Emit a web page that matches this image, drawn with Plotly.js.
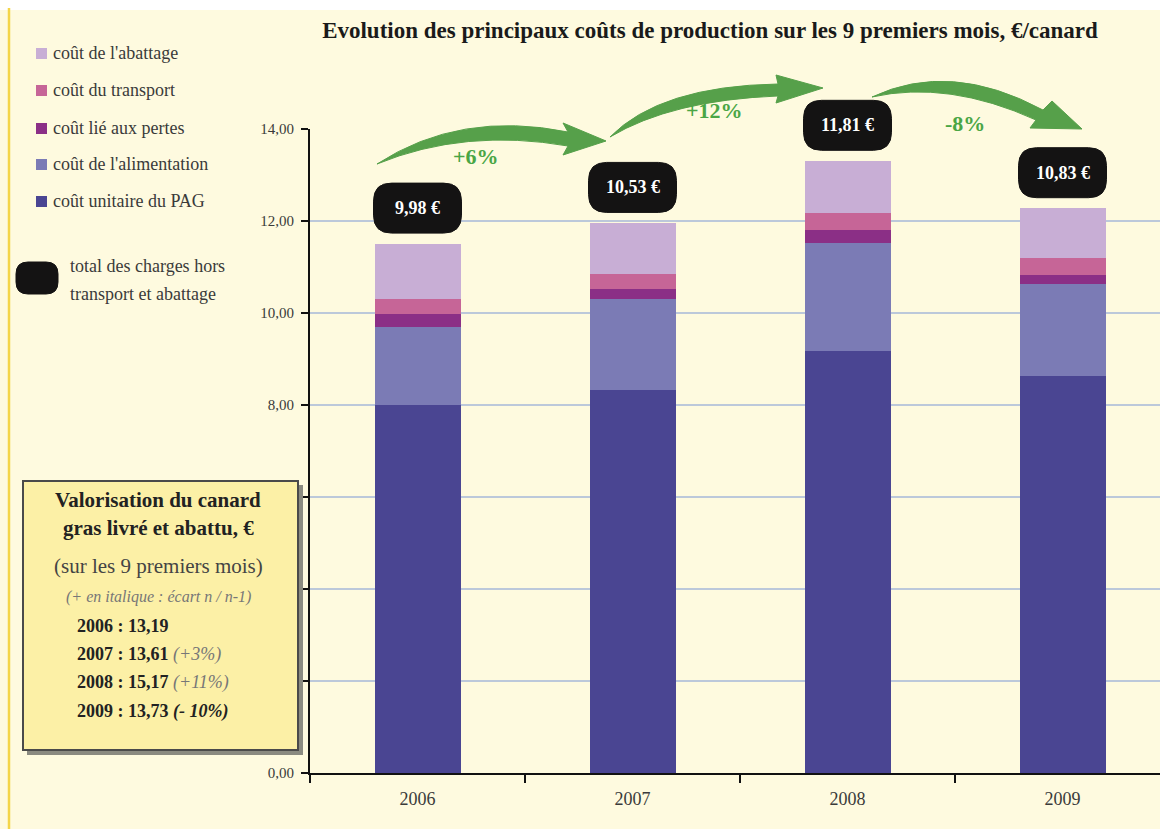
<!DOCTYPE html>
<html><head><meta charset="utf-8">
<script src="https://cdn.plot.ly/plotly-3.0.1.min.js"></script>
<style>html,body{margin:0;padding:0;background:#fefadf;} #chart{width:1160px;height:829px;}</style>
</head><body><div id="chart"></div>
<script>
// ---------- data ----------
const years = ['2006', '2007', '2008', '2009'];
const coutPAG = [8.00, 8.32, 9.17, 8.62];
const coutAlimentation = [1.70, 1.99, 2.36, 2.00];
const coutPertes = [0.28, 0.22, 0.28, 0.21];
const coutTransport = [0.33, 0.31, 0.36, 0.37];
const coutAbattage = [1.20, 1.12, 1.14, 1.08];
const totalLabels = ['9,98 €', '10,53 €', '11,81 €', '10,83 €'];
const evolutionLabels = ['+6%', '+12%', '-8%'];
const seriesNames = ["coût unitaire du PAG", "coût de l'alimentation", "coût lié aux pertes", "coût du transport", "coût de l'abattage"];
const seriesColors = ['#4a4592', '#7b7bb5', '#8b2f86', '#c66597', '#c8aed5'];
const yTickVals = [0, 2, 4, 6, 8, 10, 12, 14];
const yTickText = ['0,00', '', '', '', '8,00', '10,00', '12,00', '14,00'];
const valYears = ['2006', '2007', '2008', '2009'];
const valValues = ['13,19', '13,61', '15,17', '13,73'];
const valEcart = ['', '(+3%)', '(+11%)', '(- 10%)'];

// ---------- geometry ----------
const W = 1160, H = 829, L = 310, R = 0, T = 129, B = 56;
const PW = W - L - R, PH = H - T - B;
const Y_MAX = 14;
const fx = px => (px - L) / PW;
const fy = py => (H - B - py) / PH;
const pt = p => fx(p[0]).toFixed(5) + ',' + fy(p[1]).toFixed(5);
const FONT = 'Liberation Serif, Times New Roman, serif';

const seriesData = [coutPAG, coutAlimentation, coutPertes, coutTransport, coutAbattage];
const traces = seriesData.map((vals, i) => ({
  type: 'bar', x: years, y: vals, name: seriesNames[i],
  marker: {color: seriesColors[i], line: {width: 0}},
  width: 0.4, showlegend: false, hoverinfo: 'skip'
}));

const totals = years.map((_, i) => seriesData.reduce((s, a) => s + a[i], 0));
const LABEL_OFFSET = 0.77;

function roundRect(w, h, r) {
  const a = w / 2, b = h / 2;
  return `M ${-a + r},${-b} L ${a - r},${-b} Q ${a},${-b} ${a},${-b + r} L ${a},${b - r} Q ${a},${b} ${a - r},${b} ` +
         `L ${-a + r},${b} Q ${-a},${b} ${-a},${b - r} L ${-a},${-b + r} Q ${-a},${-b} ${-a + r},${-b} Z`;
}

const shapes = [];
const annotations = [];

// white strip at top & yellow left rule
shapes.push({type: 'rect', xref: 'paper', yref: 'paper', x0: fx(0), x1: fx(1160), y0: fy(10), y1: fy(-2), fillcolor: '#ffffff', line: {width: 0}, layer: 'below'});
shapes.push({type: 'line', xref: 'paper', yref: 'paper', x0: fx(9), x1: fx(9), y0: fy(8), y1: fy(829), line: {color: '#f4d548', width: 2.5}});

// total labels (black rounded boxes) - y in paper units (range starts at 0, full domain)
years.forEach((yr, i) => {
  const yp = (totals[i] + LABEL_OFFSET) / Y_MAX;
  shapes.push({type: 'path', xref: 'x', yref: 'paper', xsizemode: 'pixel', ysizemode: 'pixel',
    xanchor: i, yanchor: yp, path: roundRect(88, 50, 18),
    fillcolor: '#141313', line: {color: '#141313', width: 1}});
  annotations.push({x: i, y: yp, xref: 'x', yref: 'paper', xanchor: 'center', yanchor: 'middle',
    text: '<b>' + totalLabels[i] + '</b>',
    showarrow: false, font: {family: FONT, size: 18, color: '#ffffff'}});
});

// green swoosh arrows
const GREEN = '#56a04a';
const arrows = [
  `M ${pt([377,164])} Q ${pt([460,110])} ${pt([568,132])} L ${pt([563,123])} L ${pt([606,141])} L ${pt([563,155])} L ${pt([568,146])} Q ${pt([465,128])} ${pt([377,164])} Z`,
  `M ${pt([610,137])} Q ${pt([660,86])} ${pt([778,84])} L ${pt([776,75])} L ${pt([823,88])} L ${pt([776,103])} L ${pt([778,96])} Q ${pt([672,100])} ${pt([610,137])} Z`,
  `M ${pt([872,97])} Q ${pt([950,60])} ${pt([1043,110])} L ${pt([1052,101])} L ${pt([1082,129])} L ${pt([1030,128])} L ${pt([1036,120])} Q ${pt([948,80])} ${pt([872,97])} Z`
];
arrows.forEach(p => shapes.push({type: 'path', xref: 'paper', yref: 'paper', path: p, fillcolor: GREEN, line: {color: GREEN, width: 1}}));
const evoPos = [[476,157],[714,110],[965,124]];
evolutionLabels.forEach((t, i) => annotations.push({xref: 'paper', yref: 'paper', x: fx(evoPos[i][0]), y: fy(evoPos[i][1]),
  xanchor: 'center', yanchor: 'middle',
  text: '<b>' + t + '</b>', showarrow: false, font: {family: FONT, size: 22, color: '#4aa645'}}));

// manual legend
const LEG_FONT = 18;
const legendOrder = [4, 3, 2, 1, 0];
const legendY = [53, 90, 128, 164, 201];
legendOrder.forEach((si, k) => {
  const yc = legendY[k];
  shapes.push({type: 'rect', xref: 'paper', yref: 'paper', x0: fx(36), x1: fx(47), y0: fy(yc + 6), y1: fy(yc - 5),
    fillcolor: seriesColors[si], line: {width: 0}});
  annotations.push({xref: 'paper', yref: 'paper', x: fx(51), y: fy(yc), xanchor: 'left', yanchor: 'middle',
    text: seriesNames[si], showarrow: false, font: {family: FONT, size: LEG_FONT, color: '#3a3a3a'}});
});
shapes.push({type: 'path', xref: 'paper', yref: 'paper', xsizemode: 'pixel', ysizemode: 'pixel',
  xanchor: fx(37), yanchor: fy(278), path: roundRect(42, 32, 12), fillcolor: '#141313', line: {color: '#141313', width: 1}});
annotations.push({xref: 'paper', yref: 'paper', x: fx(68), y: fy(266), xanchor: 'left', yanchor: 'middle',
  text: 'total des charges hors', showarrow: false, font: {family: FONT, size: LEG_FONT, color: '#3a3a3a'}});
annotations.push({xref: 'paper', yref: 'paper', x: fx(68), y: fy(294), xanchor: 'left', yanchor: 'middle',
  text: 'transport et abattage', showarrow: false, font: {family: FONT, size: LEG_FONT, color: '#3a3a3a'}});

// yellow info box
shapes.push({type: 'rect', xref: 'paper', yref: 'paper', x0: fx(27), x1: fx(303), y0: fy(755), y1: fy(485), fillcolor: '#8a8a80', line: {width: 0}});
shapes.push({type: 'rect', xref: 'paper', yref: 'paper', x0: fx(23), x1: fx(298), y0: fy(750), y1: fy(481), fillcolor: '#fcf0a6', line: {color: '#4a4a4a', width: 2}});
const boxCx = 158;
const boxLines = [
  ['<b>Valorisation du canard</b>', 500, 21, '#222'],
  ['<b>gras livré et abattu, €</b>', 528, 21, '#222'],
  ['(sur les 9 premiers mois)', 566, 21, '#444'],
  ['<i>(+ en italique : écart n / n-1)</i>', 597, 16, '#777']
];
boxLines.forEach(l => annotations.push({xref: 'paper', yref: 'paper', x: fx(boxCx), y: fy(l[1]), xanchor: 'center', yanchor: 'middle',
  text: l[0], showarrow: false, font: {family: FONT, size: l[2], color: l[3]}}));
const valRowY = [626, 654, 682, 711];
valYears.forEach((yr, i) => {
  let t = '<b>' + yr + ' : ' + valValues[i] + '</b>';
  if (valEcart[i]) {
    t += (i === valYears.length - 1) ? ' <b><i>' + valEcart[i] + '</i></b>' : ' <i><span style="color:#777">' + valEcart[i] + '</span></i>';
  }
  annotations.push({xref: 'paper', yref: 'paper', x: fx(75), y: fy(valRowY[i]), xanchor: 'left', yanchor: 'middle',
    text: t, showarrow: false, font: {family: FONT, size: 18, color: '#222'}});
});

const layout = {
  width: W, height: H,
  margin: {l: L, r: R, t: T, b: B, pad: 0},
  paper_bgcolor: '#fefadf', plot_bgcolor: 'rgba(0,0,0,0)',
  barmode: 'stack', bargap: 0.6,
  showlegend: false,
  title: {text: '<b>Evolution des principaux coûts de production sur les 9 premiers mois, €/canard</b>',
    x: 710 / W, xanchor: 'center', y: 1 - 30 / H, yanchor: 'middle',
    font: {family: FONT, size: 23, color: '#1a1a1a'}},
  xaxis: {type: 'category', range: [-0.5, -0.5 + PW / 215], tickson: 'boundaries', ticks: 'outside', ticklen: 8,
    tickwidth: 1.5, tickcolor: '#111', showline: true, linecolor: '#111', linewidth: 2, showgrid: false,
    tickfont: {family: FONT, size: 18, color: '#3a3a3a'}, ticklabelstandoff: 8, fixedrange: true},
  yaxis: {range: [0, Y_MAX], tickvals: yTickVals, ticktext: yTickText, ticks: 'outside', ticklen: 7, tickwidth: 1.5,
    tickcolor: '#111', showline: true, linecolor: '#111', linewidth: 2, showgrid: true, gridcolor: '#bcc8da', gridwidth: 1.5,
    zeroline: false, tickfont: {family: FONT, size: 15, color: '#3a3a3a'}, ticklabelstandoff: 4, fixedrange: true},
  shapes: shapes,
  annotations: annotations
};

Plotly.newPlot('chart', traces, layout, {displayModeBar: false, staticPlot: true});
</script>
</body></html>
